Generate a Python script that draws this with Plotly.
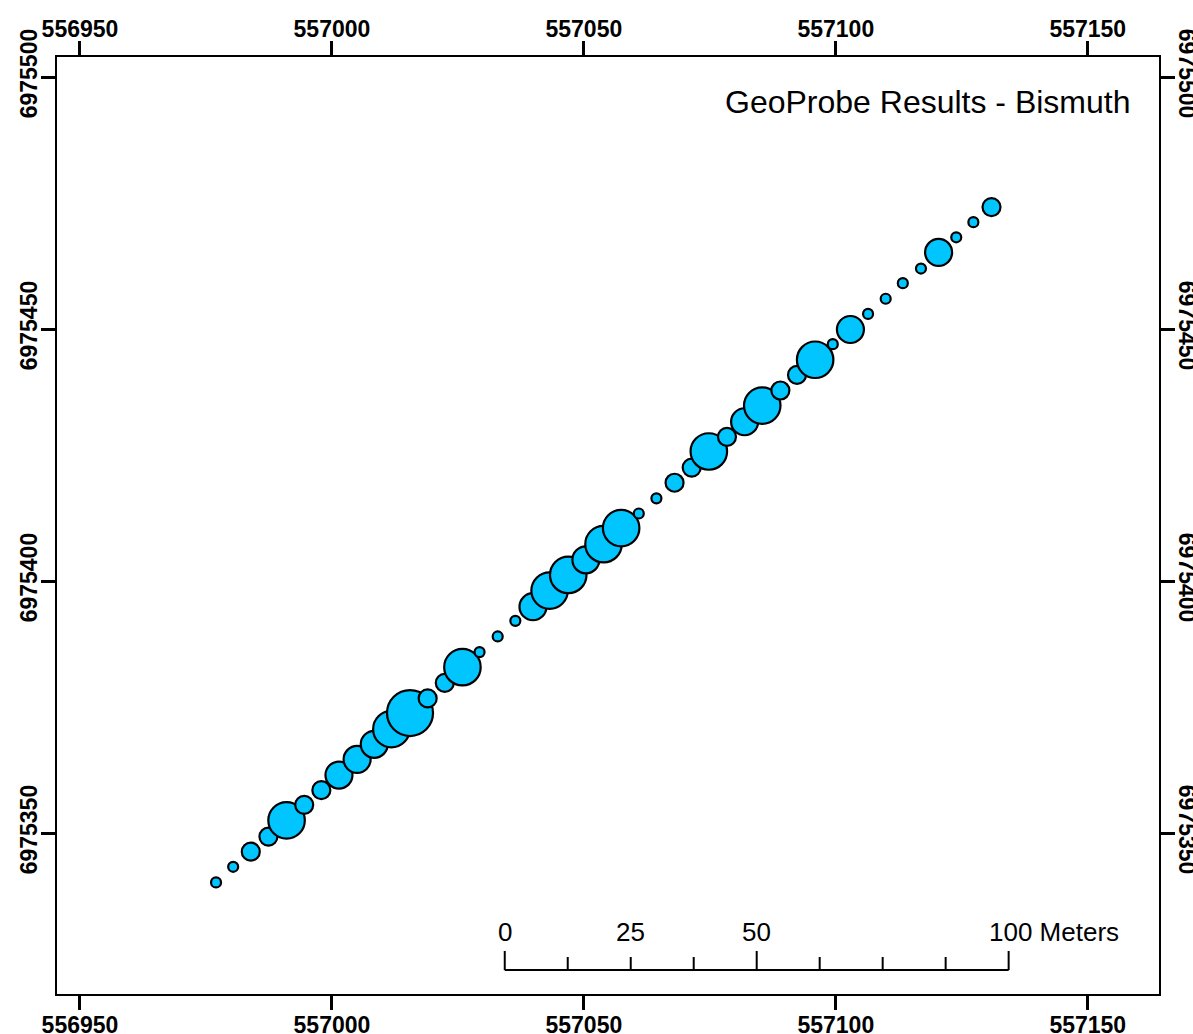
import plotly.graph_objects as go

# Sample locations (easting / northing, metres)
easting = [556977.0, 556980.4, 556983.9, 556987.4, 556991.0, 556994.5, 556997.9, 557001.4,
           557005.0, 557008.4, 557011.8, 557015.5, 557019.0, 557022.4, 557025.9, 557029.3,
           557032.9, 557036.4, 557039.9, 557043.2, 557046.9, 557050.4, 557053.9, 557057.4,
           557060.9, 557064.4, 557068.0, 557071.4, 557074.8, 557078.4, 557081.9, 557085.4,
           557089.0, 557092.3, 557095.9, 557099.4, 557102.9, 557106.4, 557109.9, 557113.3,
           557116.9, 557120.4, 557123.9, 557127.3, 557130.9]
northing = [6975340.2, 6975343.3, 6975346.3, 6975349.3, 6975352.5, 6975355.6, 6975358.5, 6975361.5,
            6975364.6, 6975367.6, 6975370.6, 6975373.8, 6975376.7, 6975379.8, 6975382.9, 6975385.9,
            6975389.0, 6975392.1, 6975394.9, 6975398.1, 6975401.2, 6975404.2, 6975407.3, 6975410.5,
            6975413.4, 6975416.4, 6975419.5, 6975422.5, 6975425.7, 6975428.6, 6975431.6, 6975434.8,
            6975437.8, 6975440.9, 6975443.9, 6975447.0, 6975449.9, 6975453.0, 6975456.0, 6975459.1,
            6975462.0, 6975465.2, 6975468.2, 6975471.2, 6975474.2]
# Bismuth graduated-symbol class (1 = lowest ... 5 = highest)
bi_class = [1, 1, 2, 2, 4, 2, 2, 3, 3, 3, 4, 5, 2, 2, 4, 1,
            1, 1, 3, 4, 4, 3, 4, 4, 1, 1, 2, 2, 4, 2, 3, 4,
            2, 2, 4, 1, 3, 1, 1, 1, 1, 3, 1, 1, 2]

x_ticks = [556950, 557000, 557050, 557100, 557150]
y_ticks = [6975350, 6975400, 6975450, 6975500]
x_range = [556945.44, 557164.14]
y_range = [6975318.06, 6975503.97]

scale_start = 557034.3
scale_len = 100
scale_labels = [0, 25, 50, 100]
scale_minor = 12.5
title_text = "GeoProbe Results - Bismuth"

class_size = {1: 10, 2: 18, 3: 27, 4: 36.5, 5: 46}
sizes = [class_size[c] for c in bi_class]

FONT = "Arial, Liberation Sans, sans-serif"
fig = go.Figure()
fig.add_trace(go.Scatter(
    x=easting, y=northing, mode="markers",
    marker=dict(size=sizes, color="#00C5FF", opacity=1,
                line=dict(color="black", width=2.2)),
    hoverinfo="skip", showlegend=False))
fig.add_trace(go.Scatter(x=[None], y=[None], xaxis="x2", yaxis="y2",
                         mode="markers", showlegend=False, hoverinfo="skip"))

ax_common = dict(showgrid=False, zeroline=False, ticks="outside", ticklen=14,
                 tickwidth=3, tickcolor="black", showline=True, linecolor="black",
                 linewidth=2, automargin=False, ticklabelstandoff=-5,
                 tickfont=dict(family=FONT, size=23, color="black", weight="bold"))

fig.update_layout(
    template="none",
    width=1193, height=1034,
    margin=dict(l=57, r=34, t=57, b=40, autoexpand=False),
    paper_bgcolor="white", plot_bgcolor="white",
    xaxis=dict(range=x_range, tickvals=x_ticks, ticktext=[str(v) for v in x_ticks],
               side="bottom", **ax_common),
    xaxis2=dict(range=x_range, tickvals=x_ticks, ticktext=[str(v) for v in x_ticks],
                side="top", overlaying="x", anchor="y", **ax_common),
    yaxis=dict(range=y_range, tickvals=y_ticks, ticktext=[str(v) for v in y_ticks],
               side="left", tickangle=-90, **ax_common),
    yaxis2=dict(range=y_range, tickvals=y_ticks, ticktext=[str(v) for v in y_ticks],
                side="right", tickangle=90, overlaying="y", anchor="x", **ax_common),
)

# Title
fig.add_annotation(xref="paper", yref="paper", x=0.9764, y=0.952, text=title_text,
                   showarrow=False, xanchor="right", yanchor="middle",
                   font=dict(family=FONT, size=32, color="black"))

# Scale bar
bar_y = 6975322.8
major_top = 6975326.6
minor_top = 6975325.4
label_y = 6975330.4
fig.add_shape(type="line", xref="x", yref="y", x0=scale_start, x1=scale_start + scale_len,
              y0=bar_y, y1=bar_y, line=dict(color="black", width=2))
n_div = int(scale_len / scale_minor)
for k in range(n_div + 1):
    xv = scale_start + k * scale_minor
    top = major_top if k % 4 == 0 else minor_top
    fig.add_shape(type="line", xref="x", yref="y", x0=xv, x1=xv, y0=bar_y, y1=top,
                  line=dict(color="black", width=2))
for v in scale_labels:
    if v == scale_labels[-1]:
        fig.add_annotation(xref="x", yref="y", x=scale_start + v, y=label_y,
                           text=f"{v} Meters", showarrow=False, xanchor="left",
                           xshift=-22, yanchor="middle",
                           font=dict(family=FONT, size=26, color="black"))
    else:
        fig.add_annotation(xref="x", yref="y", x=scale_start + v, y=label_y,
                           text=str(v), showarrow=False, xanchor="center", yanchor="middle",
                           font=dict(family=FONT, size=26, color="black"))

# remove the browser's default 8 px body margin so the figure fills the window
fig.write_html("out.html",
               config={"displayModeBar": False},
               post_script="document.body.style.margin='0';document.body.style.overflow='hidden';")
